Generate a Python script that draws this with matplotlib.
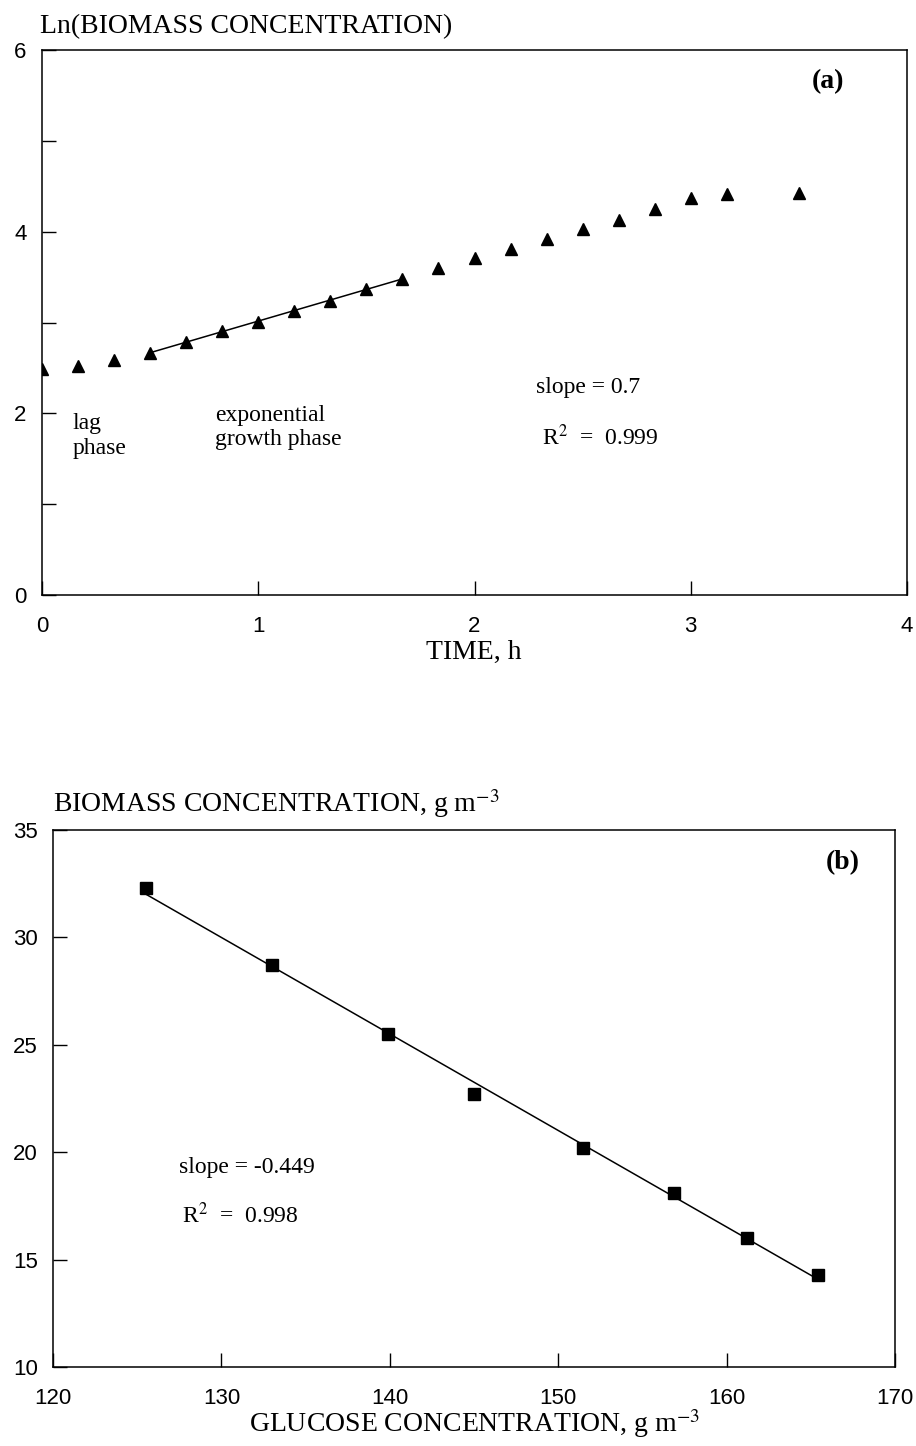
import numpy as np
import matplotlib
matplotlib.use("Agg")
import matplotlib.pyplot as plt

plt.rcParams['font.family'] = ['Liberation Serif', 'DejaVu Serif']
plt.rcParams['mathtext.fontset'] = 'stix'

# (a) growth curve
time_h = [0, 0.167, 0.333, 0.5, 0.667, 0.833, 1.0, 1.167, 1.333, 1.5, 1.667,
          1.833, 2.0, 2.167, 2.333, 2.5, 2.667, 2.833, 3.0, 3.167, 3.5]
ln_biomass = [2.49, 2.52, 2.59, 2.66, 2.79, 2.91, 3.01, 3.13, 3.24, 3.37, 3.48,
              3.60, 3.71, 3.81, 3.92, 4.03, 4.13, 4.25, 4.37, 4.42, 4.43]
exp_start, exp_end = 3, 10   # exponential growth points used for the fit

# (b) yield
glucose = [125.5, 133.0, 139.9, 145.0, 151.5, 156.9, 161.2, 165.4]
biomass = [32.3, 28.7, 25.5, 22.7, 20.2, 18.1, 16.0, 14.3]

sans = ['Liberation Sans', 'DejaVu Sans']
tick_fs = 16
lab_fs = 20
note_fs = 17

fig = plt.figure(figsize=(9.16, 14.46), dpi=100)


def style(ax):
    for s in ax.spines.values():
        s.set_linewidth(1.1)
    ax.tick_params(direction='in', length=10, width=1.0,
                   labelsize=tick_fs, top=False, right=False)
    ax.tick_params(axis='x', pad=15)
    ax.tick_params(axis='y', pad=11)
    for lab in ax.get_xticklabels() + ax.get_yticklabels():
        lab.set_family(sans)


# ---- panel (a)
ax1 = fig.add_axes([42/916, 1-595/1446, 865/916, 545/1446])
ax1.plot(time_h, ln_biomass, '^', color='black', ms=9, ls='none')
xf = np.array(time_h[exp_start:exp_end+1])
p = np.polyfit(xf, ln_biomass[exp_start:exp_end+1], 1)
ax1.plot([xf[0], xf[-1]], np.polyval(p, [xf[0], xf[-1]]), color='black', lw=1.1)
ax1.set_xlim(0, 4)
ax1.set_ylim(0, 6)
ax1.set_xticks([0, 1, 2, 3, 4])
ax1.set_yticks([0, 1, 2, 3, 4, 5, 6])
ax1.set_yticklabels(['0', '', '2', '', '4', '', '6'])
style(ax1)
ax1.text(0.143, 1.75, 'lag\nphase', fontsize=note_fs, va='center', linespacing=1.2)
ax1.text(0.80, 1.84, 'exponential\ngrowth phase', fontsize=note_fs, va='center', linespacing=1.2)
ax1.text(2.285, 2.28, 'slope = 0.7', fontsize=note_fs, va='center')
ax1.text(2.31, 1.73, r'R$^2$  =  0.999', fontsize=note_fs, va='center')
ax1.text(3.56, 5.65, '(a)', fontsize=20, fontweight='bold', va='center')
fig.text(40/916, 1-33/1446, 'Ln(BIOMASS CONCENTRATION)', fontsize=lab_fs, va='baseline')
fig.text(474/916, 1-652/1446, 'TIME, h', fontsize=lab_fs, ha='center', va='center')

# ---- panel (b)
ax2 = fig.add_axes([53/916, 1-1367/1446, 842/916, 537/1446])
ax2.plot(glucose, biomass, 's', color='black', ms=8, ls='none')
q = np.polyfit(glucose, biomass, 1)
ax2.plot([glucose[0], glucose[-1]], np.polyval(q, [glucose[0], glucose[-1]]),
         color='black', lw=1.1)
ax2.set_xlim(120, 170)
ax2.set_ylim(10, 35)
ax2.set_xticks([120, 130, 140, 150, 160, 170])
ax2.set_yticks([10, 15, 20, 25, 30, 35])
style(ax2)
ax2.text(127.5, 19.27, 'slope = -0.449', fontsize=note_fs, va='center')
ax2.text(127.66, 17.08, r'R$^2$  =  0.998', fontsize=note_fs, va='center')
ax2.text(165.9, 33.5, '(b)', fontsize=20, fontweight='bold', va='center')
fig.text(53/916, 1-812/1446, r'BIOMASS CONCENTRATION, g m$^{-3}$', fontsize=lab_fs, va='baseline')
fig.text(475/916, 1-1424/1446, r'GLUCOSE CONCENTRATION, g m$^{-3}$', fontsize=lab_fs,
         ha='center', va='center')

fig.savefig('out.png', dpi=100)
